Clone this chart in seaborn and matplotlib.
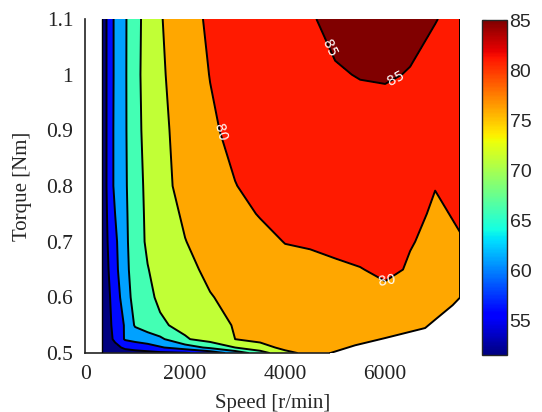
import matplotlib
matplotlib.use("Agg")
import matplotlib.pyplot as plt
import matplotlib.colors as mcolors
import numpy as np
import seaborn as sns

# speed grid [r/min] and torque grid [Nm]
speed = [340, 450, 600, 800, 1000, 1250, 1500, 2000, 2500, 3000,
         3500, 4000, 4500, 5000, 5500, 6000, 6500, 7000, 7500]
torque = [0.5, 0.51, 0.525, 0.55, 0.6, 0.65, 0.7, 0.75, 0.8, 0.9, 1.0, 1.1]

# efficiency [%], one list per torque row
eff_050 = [51, 51.5, 52, 52.5, 53, 53.5, 54, 54.5, 57, 62, 67.5, 74, 76, 76.3, 76.5, 76.5, 76.5, 76.5, 76.5]
eff_051 = [51, 52, 53.5, 56, 57, 58, 59.5, 62.5, 66, 70, 73.5, 76, 76.5, 76.8, 77, 77, 77, 77, 76.5]
eff_0525 = [51, 53, 56, 60.5, 61.5, 62.5, 64, 69.5, 72, 75, 76, 76.6, 76.9, 77.1, 77.4, 77.7, 77.8, 77.6, 77]
eff_055 = [51, 53.5, 56.5, 60.5, 65.5, 67.5, 69.3, 71.3, 73.3, 75.3, 76.2, 76.8, 77.2, 77.5, 77.9, 78.2, 78.3, 78, 77.5]
eff_060 = [51, 54, 57, 63, 66.6, 69, 70.8, 72.8, 74.8, 76, 77, 77.8, 78.3, 78.6, 79, 79.3, 79.1, 78.5, 78]
eff_065 = [51, 54.5, 58.5, 63.8, 67, 69.8, 71.8, 74, 75.8, 77, 78, 78.8, 79.2, 79.6, 79.9, 80.5, 79.8, 78.8, 78.8]
eff_070 = [51, 55, 59, 64, 67.5, 70.8, 72.6, 74.9, 76.6, 78, 79, 80.1, 80.3, 80.6, 81, 81.2, 80.1, 79.6, 79.8]
eff_075 = [51, 55.5, 60, 64.2, 67.6, 71, 73, 75.6, 77.6, 79, 80.2, 80.7, 81.1, 81.4, 81.7, 81.8, 81, 79.5, 80.4]
eff_080 = [51, 56, 61.2, 64.4, 67.8, 71.2, 73.4, 76.6, 78.6, 79.9, 81, 81.6, 82, 82.3, 82.5, 82.5, 82, 80.1, 81]
eff_090 = [51, 56, 61.2, 64.5, 68.2, 71.8, 73.8, 77, 79.4, 81, 82, 82.8, 83.3, 83.8, 84, 84, 83.6, 83, 82.8]
eff_100 = [51, 56, 61, 64.5, 68.5, 72, 74.2, 77.8, 80.1, 81.5, 82.5, 83.4, 84.1, 84.8, 85.1, 85.2, 84.9, 84.5, 84.2]
eff_110 = [51, 56, 61, 64.5, 68.2, 72, 74.6, 78.5, 80.6, 82, 83, 84, 84.8, 85.6, 86, 86, 85.6, 85.05, 84.6]

# lower edge of the measured region at high speed
limit_speed = [4900, 5400, 6000, 6800, 7000, 7350, 7500]
limit_torque = [0.5, 0.514, 0.527, 0.545, 0.56, 0.586, 0.6]

levels = [50, 55, 60, 65, 70, 75, 80, 85, 90]
line_levels = [55, 60, 65, 70, 75]
label_levels = [80, 85]
cbar_ticks = [55, 60, 65, 70, 75, 80, 85]
vmin, vmax = 51.5, 85

sns.set_style("white")
plt.rcParams["font.family"] = ["Liberation Serif", "DejaVu Serif"]

eff = np.array([eff_050, eff_051, eff_0525, eff_055, eff_060, eff_065,
                eff_070, eff_075, eff_080, eff_090, eff_100, eff_110])

cmap = matplotlib.colormaps["jet"]
norm = mcolors.Normalize(vmin=vmin, vmax=vmax)
# MATLAB-style fill: each band takes one flat colour from the map
fill_norm = mcolors.Normalize(vmin=50.5, vmax=84, clip=True)
fill_colors = [cmap(fill_norm(lv)) for lv in levels[:-1]]

fig = plt.figure(figsize=(5.42, 4.12), dpi=100)
ax = fig.add_axes([0.157, 0.143, 0.692, 0.811])
cax = fig.add_axes([0.889, 0.138, 0.046, 0.813])

ax.contourf(speed, torque, eff, levels=levels, colors=fill_colors)
ax.contour(speed, torque, eff, levels=line_levels, colors="k", linewidths=1.4)
cs_lab = ax.contour(speed, torque, eff, levels=label_levels, colors="k", linewidths=1.4)

# blank out the region below the torque limit
ax.fill_between(limit_speed, torque[0], limit_torque, color="white", zorder=3)
ax.plot(limit_speed, limit_torque, color="k", lw=1.4, zorder=4)
ax.plot([speed[-1], speed[-1]], [limit_torque[-1], torque[-1]], color="k", lw=1.4, zorder=4)
ax.plot([speed[0], speed[0]], [torque[0], torque[-1]], color="k", lw=1.0, zorder=4)

labels = ax.clabel(cs_lab, inline=False, colors="white", fontsize=10, fmt="%d",
                   manual=[(2560, 0.892), (4800, 1.044), (6140, 1.008), (6060, 0.626)])
for t in labels:
    t.set_family(["DejaVu Sans"])

ax.set_xlim(0, 7500)
ax.set_ylim(0.5, 1.1)
ax.set_xticks([0, 2000, 4000, 6000])
ax.set_yticks([0.5, 0.6, 0.7, 0.8, 0.9, 1.0, 1.1])
ax.set_yticklabels(["0.5", "0.6", "0.7", "0.8", "0.9", "1", "1.1"])
ax.tick_params(direction="in", length=4, width=1, labelsize=15.5, colors="#222222", pad=8.5)
for side in ["top", "right"]:
    ax.spines[side].set_visible(False)
for side in ["left", "bottom"]:
    ax.spines[side].set_color("#222222")
    ax.spines[side].set_linewidth(1.2)
ax.set_xlabel("Speed [r/min]", fontsize=15, labelpad=7.5)
ax.set_ylabel("Torque [Nm]", fontsize=15, labelpad=10)

sm = plt.cm.ScalarMappable(norm=norm, cmap=cmap)
cb = fig.colorbar(sm, cax=cax, ticks=cbar_ticks)
cb.outline.set_linewidth(1.0)
cax.tick_params(direction="in", length=3, labelsize=14, right=True, left=True, pad=2)
for t in cax.get_yticklabels():
    t.set_family(["Liberation Sans", "DejaVu Sans"])

fig.savefig("out.png", dpi=100)
